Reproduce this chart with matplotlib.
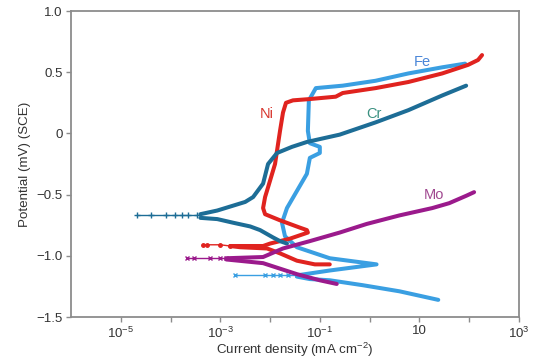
import matplotlib.pyplot as plt
from matplotlib.ticker import FixedLocator, FixedFormatter, NullLocator
import numpy as np

plt.rcParams['font.family'] = ['Liberation Sans', 'DejaVu Sans']
plt.rcParams['mathtext.fontset'] = 'custom'
plt.rcParams['mathtext.rm'] = 'Liberation Sans'
plt.rcParams['mathtext.it'] = 'Liberation Sans:italic'
plt.rcParams['mathtext.bf'] = 'Liberation Sans:bold'

# log10 of current density (mA cm-2) and potential (V vs SCE)
# thin parts near the corrosion potential (drawn with markers)
cr_tip_logi = [-4.68, -4.40, -4.10, -3.90, -3.76, -3.64, -3.46]
cr_tip_v = [-0.67, -0.67, -0.67, -0.67, -0.67, -0.67, -0.67]
ni_tip_logi = [-3.34, -3.26, -3.00, -2.80]
ni_tip_v = [-0.91, -0.91, -0.91, -0.92]
mo_tip_logi = [-3.66, -3.52, -3.20, -3.00, -2.88]
mo_tip_v = [-1.02, -1.02, -1.02, -1.02, -1.02]
fe_tip_logi = [-2.70, -2.10, -1.94, -1.80, -1.64, -1.46]
fe_tip_v = [-1.16, -1.16, -1.16, -1.16, -1.16, -1.16]

# anodic / cathodic branches
cr_an_logi = [-3.40, -3.06, -2.74, -2.50, -2.34, -2.14, -2.04, -1.86, -1.56, -1.26, -0.60, 0.12, 0.78, 1.46, 1.94]
cr_an_v = [-0.66, -0.63, -0.59, -0.56, -0.52, -0.41, -0.25, -0.16, -0.11, -0.07, -0.01, 0.09, 0.19, 0.31, 0.39]
cr_ca_logi = [-3.40, -3.06, -2.74, -2.40, -2.20, -1.94, -1.80, -1.66]
cr_ca_v = [-0.69, -0.70, -0.73, -0.76, -0.79, -0.85, -0.88, -0.90]

ni_an_logi = [-2.80, -2.14, -2.00, -1.60, -1.24, -1.26, -1.40, -1.80, -2.10, -2.14, -2.10, -2.04, -1.90,
              -1.80, -1.74, -1.68, -1.54, -1.22, -0.68, -0.54, 0.12, 0.78, 1.46, 1.98, 2.18, 2.26]
ni_an_v = [-0.92, -0.92, -0.90, -0.86, -0.81, -0.79, -0.77, -0.71, -0.66, -0.61, -0.52, -0.44, -0.25,
           0.02, 0.17, 0.25, 0.27, 0.28, 0.30, 0.33, 0.37, 0.42, 0.49, 0.56, 0.60, 0.64]
ni_ca_logi = [-2.80, -2.60, -2.06, -1.80, -1.46, -1.10, -0.80]
ni_ca_v = [-0.92, -0.93, -0.94, -0.98, -1.04, -1.07, -1.07]

fe_an_logi = [-1.46, -0.80, 0.14, -0.80, -1.46, -1.70, -1.76, -1.66, -1.46, -1.26, -1.20, -1.00, -1.00,
              -1.20, -1.24, -1.22, -1.08, -0.54, 0.12, 0.78, 1.46, 1.92]
fe_an_v = [-1.16, -1.12, -1.07, -1.02, -0.93, -0.84, -0.73, -0.61, -0.47, -0.33, -0.20, -0.16, -0.11,
           -0.08, 0.02, 0.27, 0.37, 0.39, 0.43, 0.49, 0.54, 0.57]
fe_ca_logi = [-1.46, -1.20, -0.80, -0.14, 0.60, 1.38]
fe_ca_v = [-1.17, -1.19, -1.20, -1.24, -1.29, -1.36]

mo_an_logi = [-2.88, -2.14, -1.74, -1.20, -0.60, -0.06, 0.60, 1.26, 1.60, 1.94, 2.10]
mo_an_v = [-1.02, -1.01, -0.94, -0.88, -0.81, -0.74, -0.67, -0.61, -0.57, -0.51, -0.48]
mo_ca_logi = [-2.88, -2.14, -1.46, -1.00, -0.66]
mo_ca_v = [-1.03, -1.06, -1.15, -1.20, -1.23]

fe_color = '#3a9fe2'
ni_color = '#e0231f'
cr_color = '#1d6d96'
mo_color = '#9b1a8c'


def draw(ax, tip_logi, tip_v, an_logi, an_v, ca_logi, ca_v, color, marker, ms):
    ax.plot(10 ** np.array(tip_logi), tip_v, color=color, lw=1.0, marker=marker, ms=ms, mew=1.0)
    ax.plot(10 ** np.array(an_logi), an_v, color=color, lw=2.9, solid_capstyle='round', solid_joinstyle='round')
    ax.plot(10 ** np.array(ca_logi), ca_v, color=color, lw=2.9, solid_capstyle='round', solid_joinstyle='round')


fig = plt.figure(figsize=(5.52, 3.62), dpi=100)
ax = fig.add_axes([0.1286, 0.1243, 0.8114, 0.8453])

draw(ax, fe_tip_logi, fe_tip_v, fe_an_logi, fe_an_v, fe_ca_logi, fe_ca_v, fe_color, 'x', 3.5)
draw(ax, ni_tip_logi, ni_tip_v, ni_an_logi, ni_an_v, ni_ca_logi, ni_ca_v, ni_color, 'o', 2.5)
draw(ax, cr_tip_logi, cr_tip_v, cr_an_logi, cr_an_v, cr_ca_logi, cr_ca_v, cr_color, '+', 4)
draw(ax, mo_tip_logi, mo_tip_v, mo_an_logi, mo_an_v, mo_ca_logi, mo_ca_v, mo_color, 'x', 3.5)

ax.text(10 ** 1.06, 0.58, 'Fe', color='#4a86d8', fontsize=10.5, ha='center', va='center')
ax.text(10 ** -2.06, 0.16, 'Ni', color='#d8372f', fontsize=10.5, ha='center', va='center')
ax.text(10 ** 0.08, 0.16, 'Cr', color='#3a9080', fontsize=10.5, ha='center', va='center')
ax.text(10 ** 1.30, -0.50, 'Mo', color='#a04890', fontsize=10.5, ha='center', va='center')

ax.set_xscale('log')
ax.set_xlim(1e-6, 1e3)
ax.set_ylim(-1.5, 1.0)

xt = [10.0 ** k for k in range(-5, 4)]
xl = ['$10^{-5}$', '', '$10^{-3}$', '', '$10^{-1}$', '', '10', '', '$10^{3}$']
ax.xaxis.set_major_locator(FixedLocator(xt))
ax.xaxis.set_major_formatter(FixedFormatter(xl))
ax.xaxis.set_minor_locator(NullLocator())

yt = [-1.5, -1.0, -0.5, 0.0, 0.5, 1.0]
yl = ['\u22121.5', '\u22121.0', '\u22120.5', '0', '0.5', '1.0']
ax.set_yticks(yt)
ax.set_yticklabels(yl)

for s in ax.spines.values():
    s.set_color('#8c8c8c')
    s.set_linewidth(1.3)
ax.tick_params(colors='#8c8c8c', labelcolor='#333333', length=3.5, width=1.0, labelsize=9.5)
ax.tick_params(axis='x', pad=2.5)
ax.tick_params(axis='y', pad=2.5)

ax.set_xlabel('Current density (mA cm$^{-2}$)', fontsize=9.6, color='#333333', labelpad=0)
ax.set_ylabel('Potential (mV) (SCE)', fontsize=9.6, color='#333333', labelpad=4)

fig.savefig('out.png', dpi=100)
